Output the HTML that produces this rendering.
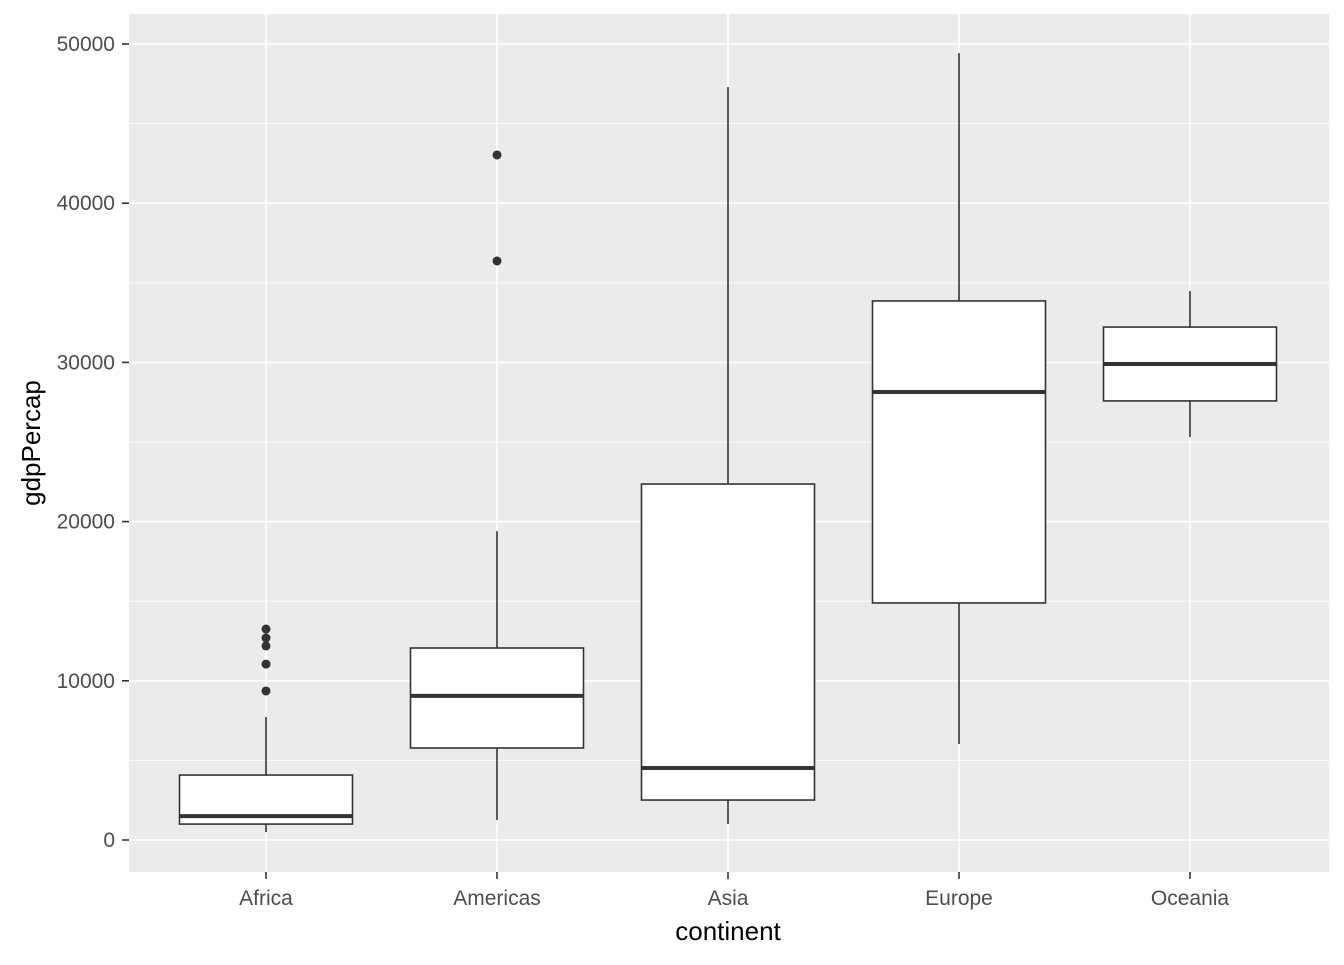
<!DOCTYPE html>
<html><head><meta charset="utf-8"><style>
body{margin:0;background:#fff;}
svg text{font-family:"Liberation Sans",Arial,sans-serif;}
</style></head><body>
<svg id="chart" width="1344" height="960" xmlns="http://www.w3.org/2000/svg">
<rect x="129" y="14" width="1200" height="858" fill="#ebebeb"/>
<g id="grid"></g><g id="boxes"></g><g id="axes"></g>
<text x="728" y="940" font-size="26" text-anchor="middle" fill="#000">continent</text>
<text transform="translate(40,443) rotate(-90)" font-size="26" text-anchor="middle" fill="#000">gdpPercap</text>
</svg>
<script>
const categories=["Africa","Americas","Asia","Europe","Oceania"];
const lowerWhisker=[500,1260,1000,6030,25310];
const q1=[1000,5780,2510,14890,27580];
const median=[1500,9050,4520,28140,29900];
const q3=[4080,12060,22360,33860,32220];
const upperWhisker=[7720,19400,47300,49430,34480];
const outliers=[[9360,11050,12190,12690,13250],[36370,43030],[],[],[]];
const yTicks=[0,10000,20000,30000,40000,50000];
const NS="http://www.w3.org/2000/svg";
function y(v){return 840-v*(796/50000);}
function x(i){return 266+i*231;}
function mk(tag,attrs,parent){const e=document.createElementNS(NS,tag);for(const k in attrs)e.setAttribute(k,attrs[k]);parent.appendChild(e);return e;}
const grid=document.getElementById('grid'),boxes=document.getElementById('boxes'),axes=document.getElementById('axes');
for(let v=5000;v<=55000;v+=10000){if(y(v)<14)continue;
const l=mk('line',{x1:129,x2:1329,y1:y(v),y2:y(v),stroke:'#fff','stroke-width':0.8},grid);

}
yTicks.forEach(v=>{
const l=mk('line',{x1:129,x2:1329,y1:y(v),y2:y(v),stroke:'#fff','stroke-width':1.6},grid);


const t=mk('line',{x1:122,x2:129,y1:y(v),y2:y(v),stroke:'#333','stroke-width':1.6},axes);


const tx=mk('text',{x:115,y:y(v)+7,'font-size':21,'text-anchor':'end',fill:'#4d4d4d'},axes);
tx.textContent=v;


});
categories.forEach((c,i)=>{
const cx=x(i),hw=86.5;
const g=mk('line',{x1:cx,x2:cx,y1:14,y2:872,stroke:'#fff','stroke-width':1.6},grid);


const w1=mk('line',{x1:cx,x2:cx,y1:y(upperWhisker[i]),y2:y(q3[i]),stroke:'#333','stroke-width':1.6},boxes);


const w2=mk('line',{x1:cx,x2:cx,y1:y(q1[i]),y2:y(lowerWhisker[i]),stroke:'#333','stroke-width':1.6},boxes);


const b=mk('rect',{x:cx-hw,y:y(q3[i]),width:2*hw,height:y(q1[i])-y(q3[i]),fill:'#fff',stroke:'#333','stroke-width':1.6},boxes);


const m=mk('line',{x1:cx-hw,x2:cx+hw,y1:y(median[i]),y2:y(median[i]),stroke:'#333','stroke-width':4},boxes);


outliers[i].forEach(v=>{
const p=mk('circle',{cx:cx,cy:y(v),r:4.5,fill:'#333'},boxes);


});
const t=mk('line',{x1:cx,x2:cx,y1:872,y2:879,stroke:'#333','stroke-width':1.6},axes);


const tx=mk('text',{x:cx,y:905,'font-size':21,'text-anchor':'middle',fill:'#4d4d4d'},axes);
tx.textContent=c;


});
</script>
</body></html>
